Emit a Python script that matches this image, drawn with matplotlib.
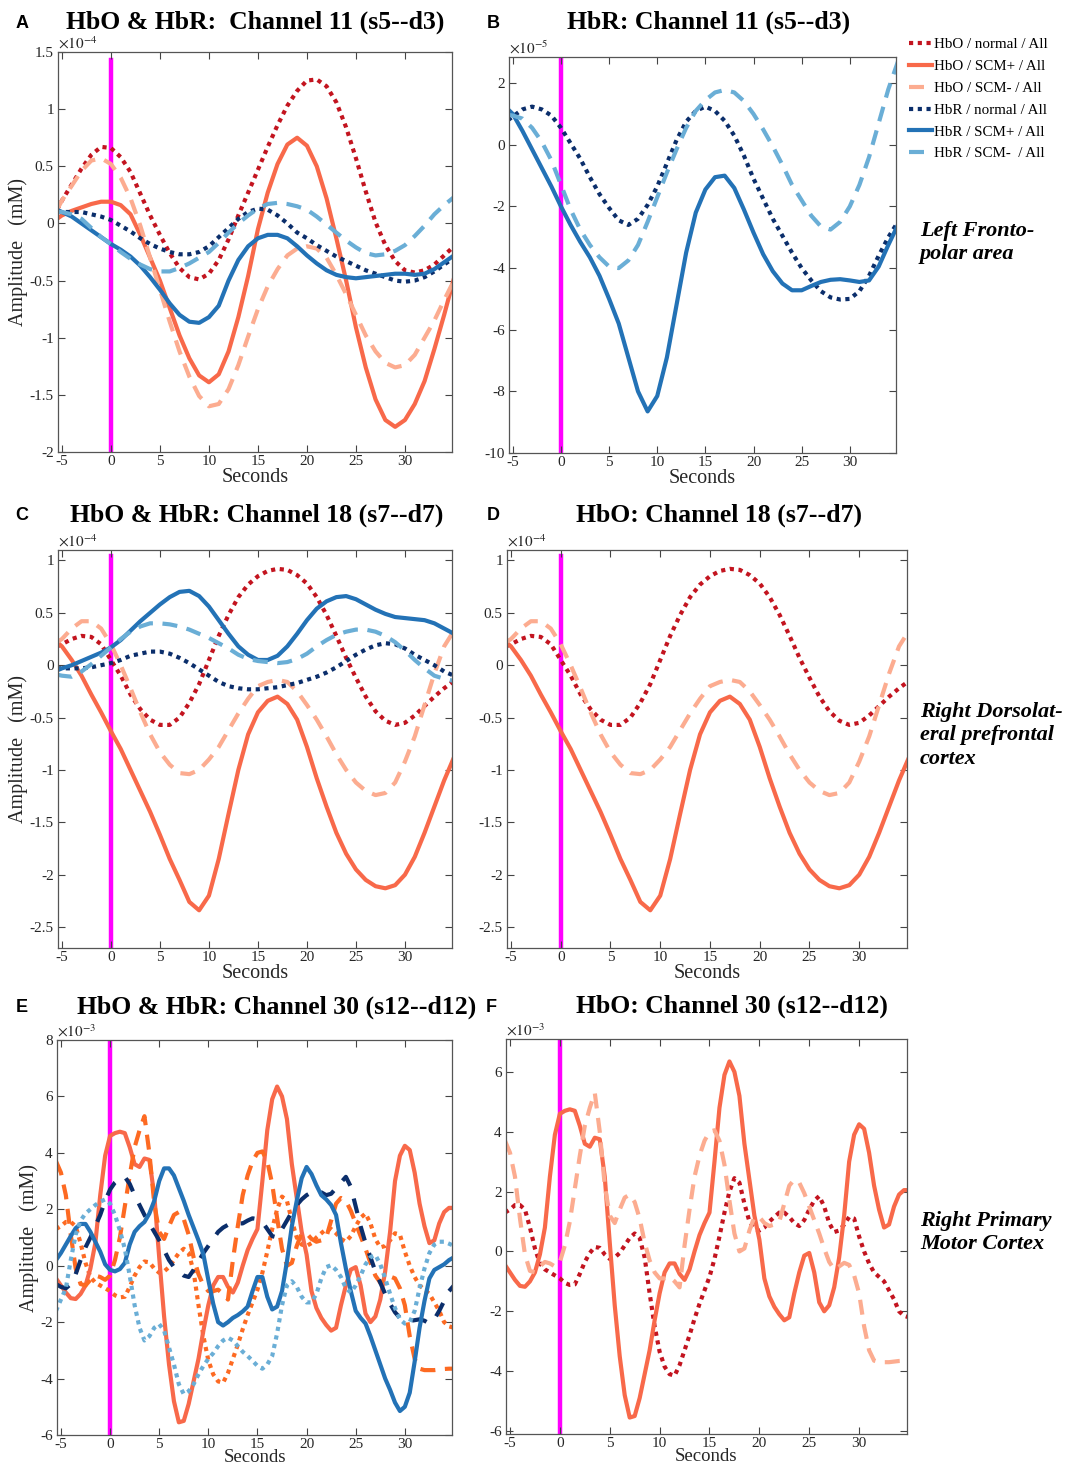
import numpy as np
import matplotlib
matplotlib.use("Agg")
import matplotlib.pyplot as plt
from matplotlib.ticker import FuncFormatter

plt.rcParams["font.family"] = ["Liberation Serif", "DejaVu Serif"]
plt.rcParams["mathtext.fontset"] = "stix"

# sample times (s) of the block averages
T_SLOW = [-5.5] + list(range(-5, 36))
T_FAST = list(np.arange(-5.5, 35.01, 0.5))

# Channel 11 (s5--d3), x1e-4 mM
A_HBO_NORM = [0.12, 0.2, 0.34, 0.48, 0.6, 0.67, 0.66, 0.58, 0.45, 0.26, 0.07, -0.1, -0.26, -0.39,
              -0.47, -0.49, -0.44, -0.32, -0.14, 0.07, 0.27, 0.47, 0.67, 0.86, 1.03, 1.16, 1.25,
              1.26, 1.2, 1.06, 0.84, 0.57, 0.28, 0.01, -0.19, -0.33, -0.41, -0.43, -0.41, -0.36,
              -0.28, -0.2]
A_HBO_P = [0.04, 0.07, 0.11, 0.14, 0.17, 0.19, 0.19, 0.16, 0.08, -0.1, -0.3, -0.5, -0.74, -0.98,
           -1.18, -1.33, -1.39, -1.32, -1.12, -0.82, -0.46, -0.05, 0.27, 0.52, 0.69, 0.75, 0.68,
           0.5, 0.22, -0.13, -0.5, -0.91, -1.26, -1.54, -1.72, -1.78, -1.72, -1.58, -1.38, -1.1,
           -0.8, -0.48]
A_HBO_M = [0.12, 0.2, 0.33, 0.46, 0.55, 0.57, 0.52, 0.4, 0.22, -0.02, -0.3, -0.58, -0.86, -1.12,
           -1.34, -1.51, -1.6, -1.58, -1.45, -1.24, -0.99, -0.75, -0.55, -0.4, -0.28, -0.22, -0.2,
           -0.22, -0.3, -0.45, -0.62, -0.8, -0.98, -1.12, -1.22, -1.26, -1.24, -1.15, -1.0,
           -0.85, -0.67, -0.5]
A_HBR_NORM = [0.1, 0.1, 0.1, 0.1, 0.08, 0.06, 0.03, -0.02, -0.07, -0.13, -0.18, -0.22, -0.25,
              -0.27, -0.27, -0.25, -0.2, -0.12, -0.04, 0.04, 0.1, 0.13, 0.12, 0.07, 0.0, -0.08,
              -0.13, -0.19, -0.24, -0.29, -0.33, -0.37, -0.41, -0.44, -0.47, -0.5, -0.51, -0.5,
              -0.47, -0.42, -0.36, -0.3]
A_HBR_P = [0.12, 0.1, 0.06, 0.0, -0.06, -0.12, -0.18, -0.23, -0.29, -0.37, -0.47, -0.58, -0.7,
           -0.8, -0.86, -0.87, -0.82, -0.72, -0.5, -0.32, -0.2, -0.13, -0.1, -0.1, -0.13, -0.2,
           -0.28, -0.35, -0.41, -0.45, -0.47, -0.48, -0.47, -0.46, -0.45, -0.44, -0.44, -0.45,
           -0.44, -0.4, -0.34, -0.28]
A_HBR_M = [0.1, 0.1, 0.08, 0.04, -0.04, -0.12, -0.18, -0.25, -0.31, -0.36, -0.4, -0.42, -0.42,
           -0.39, -0.35, -0.3, -0.25, -0.17, -0.08, 0.0, 0.07, 0.13, 0.17, 0.18, 0.17, 0.15, 0.12,
           0.06, -0.01, -0.08, -0.15, -0.21, -0.26, -0.28, -0.27, -0.24, -0.19, -0.11, -0.02,
           0.08, 0.16, 0.23]

# Channel 11 HbR only, x1e-5 mM
B_HBR_NORM = [0.8, 0.92, 1.15, 1.24, 1.15, 0.95, 0.55, 0.05, -0.45, -1.05, -1.6, -2.05, -2.45,
              -2.6, -2.4, -1.95, -1.35, -0.6, 0.15, 0.75, 1.1, 1.24, 1.1, 0.78, 0.3, -0.35, -1.1,
              -1.75, -2.4, -2.95, -3.5, -4.0, -4.4, -4.75, -4.95, -5.02, -5.0, -4.75, -4.25,
              -3.6, -3.0, -2.5]
B_HBR_P = [1.15, 1.0, 0.45, -0.15, -0.75, -1.35, -2.0, -2.6, -3.15, -3.65, -4.25, -5.0, -5.8,
           -6.9, -8.0, -8.65, -8.15, -6.9, -5.2, -3.5, -2.2, -1.45, -1.05, -1.0, -1.4, -2.1,
           -2.85, -3.55, -4.1, -4.5, -4.72, -4.72, -4.58, -4.45, -4.38, -4.36, -4.4, -4.45,
           -4.4, -3.95, -3.25, -2.6]
B_HBR_M = [0.97, 0.95, 0.85, 0.55, 0.1, -0.5, -1.3, -2.1, -2.75, -3.25, -3.65, -3.95, -4.0,
           -3.75, -3.25, -2.5, -1.7, -0.9, -0.15, 0.55, 1.1, 1.45, 1.7, 1.78, 1.7, 1.42, 1.0, 0.5,
           -0.05, -0.65, -1.3, -1.8, -2.3, -2.65, -2.75, -2.5, -2.0, -1.3, -0.4, 0.7, 1.8, 2.7]

# Channel 18 (s7--d7), x1e-4 mM
C_HBO_NORM = [0.18, 0.2, 0.25, 0.28, 0.27, 0.2, 0.05, -0.1, -0.28, -0.42, -0.52, -0.57, -0.57,
              -0.5, -0.36, -0.18, 0.05, 0.28, 0.48, 0.65, 0.77, 0.85, 0.9, 0.92, 0.91, 0.86, 0.78,
              0.65, 0.48, 0.28, 0.07, -0.12, -0.3, -0.44, -0.53, -0.57, -0.55, -0.48, -0.39,
              -0.3, -0.22, -0.15]
C_HBO_P = [0.22, 0.18, 0.05, -0.1, -0.28, -0.45, -0.63, -0.8, -1.0, -1.2, -1.4, -1.62, -1.85,
           -2.05, -2.26, -2.34, -2.2, -1.85, -1.42, -1.0, -0.66, -0.45, -0.34, -0.3, -0.37,
           -0.52, -0.78, -1.08, -1.35, -1.6, -1.8, -1.95, -2.05, -2.11, -2.13, -2.1, -2.0,
           -1.83, -1.6, -1.35, -1.1, -0.88]
C_HBO_M = [0.22, 0.25, 0.35, 0.42, 0.42, 0.35, 0.2, 0.0, -0.22, -0.45, -0.66, -0.83, -0.95,
           -1.03, -1.04, -1.0, -0.9, -0.78, -0.62, -0.46, -0.32, -0.2, -0.16, -0.14, -0.16,
           -0.25, -0.38, -0.52, -0.68, -0.85, -1.0, -1.12, -1.2, -1.24, -1.22, -1.12, -0.92,
           -0.68, -0.38, -0.08, 0.18, 0.33]
C_HBR_NORM = [-0.03, -0.03, -0.03, -0.03, -0.02, 0.0, 0.02, 0.05, 0.09, 0.11, 0.13, 0.13, 0.11,
              0.07, 0.02, -0.04, -0.1, -0.16, -0.2, -0.22, -0.23, -0.23, -0.22, -0.21, -0.19,
              -0.17, -0.14, -0.11, -0.07, -0.02, 0.04, 0.1, 0.15, 0.19, 0.21, 0.2, 0.16, 0.1,
              0.05, 0.0, -0.06, -0.1]
C_HBR_P = [-0.05, -0.03, 0.0, 0.04, 0.08, 0.12, 0.17, 0.24, 0.33, 0.42, 0.5, 0.58, 0.65, 0.7,
           0.71, 0.66, 0.56, 0.43, 0.3, 0.18, 0.1, 0.05, 0.05, 0.09, 0.18, 0.3, 0.43, 0.54, 0.61,
           0.65, 0.66, 0.63, 0.58, 0.53, 0.49, 0.46, 0.45, 0.44, 0.43, 0.4, 0.35, 0.3]
C_HBR_M = [-0.09, -0.1, -0.11, -0.06, 0.01, 0.09, 0.17, 0.25, 0.32, 0.37, 0.4, 0.4, 0.39, 0.37,
           0.34, 0.3, 0.26, 0.21, 0.16, 0.1, 0.06, 0.04, 0.03, 0.02, 0.03, 0.06, 0.11, 0.18,
           0.24, 0.29, 0.32, 0.34, 0.34, 0.32, 0.28, 0.22, 0.14, 0.05, -0.03, -0.1, -0.13, -0.15]

# Channel 30 (s12--d12), x1e-3 mM, every 0.5 s
E_HBO_NORM = [1.3, 1.4, 1.55, 1.55, 1.4, 0.8, 0.1, -0.4, -0.6, -0.7,
              -0.8, -0.9, -1.05, -1.12, -1.1, -0.75, -0.35, -0.05, 0.15, 0.12,
              -0.1, -0.25, -0.2, -0.05, 0.2, 0.45, 0.6, 0.45, -0.2, -1.4,
              -2.5, -3.35, -3.85, -4.1, -4.15, -3.8, -3.3, -2.8, -2.25, -1.75,
              -1.3, -0.85, -0.25, 0.5, 1.3, 2.0, 2.45, 2.3, 1.6, 1.0,
              0.75, 0.7, 0.8, 1.0, 1.15, 1.3, 1.3, 1.15, 0.95, 0.85,
              1.05, 1.4, 1.7, 1.85, 1.5, 0.95, 0.65, 0.7, 0.9, 1.15,
              1.1, 0.5, 0.0, -0.4, -0.7, -0.85, -1.0, -1.3, -1.6, -2.0,
              -2.15, -2.2]
E_HBO_P = [-0.45, -0.7, -0.95, -1.15, -1.18, -1.0, -0.7, -0.1, 0.8, 2.5,
           3.9, 4.6, 4.7, 4.75, 4.7, 4.2, 3.6, 3.5, 3.8, 3.75,
           2.5, 0.3, -1.8, -3.5, -4.8, -5.55, -5.5, -4.9, -4.1, -3.3,
           -2.3, -1.4, -0.7, -0.4, -0.4, -0.75, -0.95, -0.6, 0.0, 0.55,
           0.95, 1.3, 3.0, 4.8, 5.9, 6.35, 6.0, 5.2, 3.6, 2.4,
           1.2, 0.4, -0.9, -1.5, -1.85, -2.1, -2.3, -2.2, -1.4, -0.7,
           -0.14, -0.05, -0.7, -1.7, -2.0, -1.8, -1.2, -0.2, 1.2, 3.0,
           3.9, 4.25, 4.1, 3.3, 2.2, 1.4, 0.8, 0.9, 1.5, 1.9,
           2.05, 2.05]
E_HBO_M = [3.7, 3.3, 2.5, 1.1, -0.1, -0.65, -0.7, -0.5, -0.35, -0.4,
           -0.5, -0.35, 0.2, 1.0, 2.1, 3.2, 4.2, 4.8, 5.3, 4.0,
           2.2, 1.2, 0.95, 1.4, 1.8, 1.9, 1.65, 1.1, 0.3, -0.3,
           -0.7, -0.9, -0.9, -0.85, -1.0, -1.2, 0.2, 1.4, 2.5, 3.2,
           3.7, 4.0, 4.05, 3.7, 2.9, 1.7, 0.6, 0.0, 0.1, 0.7,
           1.15, 1.15, 0.95, 0.85, 0.9, 1.0, 1.6, 2.2, 2.4, 2.3,
           1.95, 1.5, 1.05, 0.6, 0.1, -0.35, -0.6, -0.5, -0.38, -0.45,
           -0.8, -1.4, -2.5, -3.3, -3.65, -3.7, -3.7, -3.7, -3.68, -3.66,
           -3.65, -3.65]
E_HBR_NORM = [-0.65, -0.75, -0.8, -0.65, -0.3, 0.2, 0.65, 1.0, 1.4, 1.8,
              2.3, 2.7, 2.95, 3.1, 3.15, 2.9, 2.5, 2.15, 1.8, 1.5,
              1.2, 0.9, 0.55, 0.2, -0.05, -0.2, -0.35, -0.4, -0.15, 0.15,
              0.45, 0.7, 0.95, 1.2, 1.35, 1.45, 1.5, 1.5, 1.5, 1.6,
              1.68, 1.65, 1.55, 1.3, 1.05, 1.0, 1.3, 1.6, 1.9, 2.15,
              2.35, 2.5, 2.6, 2.62, 2.6, 2.5, 2.55, 2.75, 2.95, 3.15,
              2.8, 2.1, 1.4, 0.8, 0.3, -0.2, -0.6, -1.0, -1.35, -1.65,
              -1.85, -1.92, -1.96, -1.93, -1.9, -1.95, -2.05, -1.9, -1.6, -1.25,
              -0.9, -0.7]
E_HBR_P = [0.2, 0.45, 0.75, 1.05, 1.33, 1.48, 1.48, 1.2, 0.85, 0.5,
           0.05, -0.15, -0.2, -0.12, 0.1, 0.75, 1.2, 1.4, 1.55, 1.85,
           2.3, 3.0, 3.45, 3.45, 3.2, 2.75, 2.3, 1.8, 1.35, 0.9,
           0.4, -0.5, -1.35, -2.0, -2.12, -2.0, -1.85, -1.75, -1.62, -1.45,
           -0.9, -0.4, -0.4, -1.1, -1.55, -1.45, -0.9, 0.15, 1.4, 2.3,
           3.1, 3.5, 3.25, 2.85, 2.5, 2.35, 2.15, 1.8, 0.8, -0.1,
           -0.9, -1.6, -1.85, -2.05, -2.5, -3.0, -3.5, -4.0, -4.4, -4.85,
           -5.15, -5.0, -4.5, -3.4, -2.2, -1.25, -0.45, -0.15, -0.05, 0.05,
           0.2, 0.3]
E_HBR_M = [-1.6, -1.2, -0.8, 0.2, 1.1, 1.6, 1.85, 2.0, 2.15, 2.27,
           2.35, 2.2, 1.8, 1.25, 0.6, -0.35, -1.4, -2.2, -2.65, -2.5,
           -2.2, -2.07, -2.3, -2.9, -3.5, -4.2, -4.55, -4.45, -4.2, -3.85,
           -3.55, -3.3, -3.1, -2.85, -2.65, -2.55, -2.65, -2.85, -3.05, -3.2,
           -3.37, -3.55, -3.65, -3.5, -3.2, -2.4, -1.4, -0.7, -0.55, -0.75,
           -1.1, -1.3, -1.3, -1.0, -0.45, -0.05, 0.02, -0.15, -0.4, -0.8,
           -0.95, -0.7, -0.35, 0.05, 0.3, 0.38, 0.05, -0.45, -1.0, -1.5,
           -1.9, -2.05, -2.0, -1.6, -0.8, -0.1, 0.45, 0.75, 0.85, 0.85,
           0.78, 0.7]

LEGEND_LABELS = ["HbO / normal / All", "HbO / SCM+ / All", "HbO / SCM- / All",
                 "HbR / normal / All", "HbR / SCM+ / All", "HbR / SCM-  / All"]

HBO_NORM_C = "#c3141f"
HBO_P_C = "#f8694a"
HBO_M_C = "#fcac90"
HBR_NORM_C = "#0b2e6b"
HBR_P_C = "#2372b6"
HBR_M_C = "#6aaed6"
ORANGE_C = "#fd6a22"
ONSET_C = "#ff00ff"

SOLID = dict(ls="-", lw=3.0, solid_joinstyle="round")
DOT = dict(ls=(0, (1, 1.1)), lw=3.0, dash_capstyle="butt")
DASH = dict(ls=(0, (3.6, 2.3)), lw=3.0, dash_capstyle="butt")
LONGDASH = dict(ls=(0, (3.6, 3.2)), lw=3.0, dash_capstyle="butt")

W, H = 1067, 1469
fig = plt.figure(figsize=(W / 100, H / 100), dpi=100)


def px_axes(x0, y0, x1, y1):
    """Axes from a pixel box (top-left origin)."""
    return fig.add_axes([x0 / W, 1 - y1 / H, (x1 - x0) / W, (y1 - y0) / H])


def style_axes(ax, ylim, yticks, exponent, ylabel=False, onset_top=1.0,
               xlabelpad=0, xlabelsize=14.5):
    """Matlab-like frame: inward ticks on all sides, hyphen minus, x10^n marker."""
    ax.axvline(0, ymin=0, ymax=onset_top, color=ONSET_C, lw=3.2, zorder=1)
    ax.set_xlim(-5.4, 34.8)
    ax.set_ylim(*ylim)
    ax.set_xticks(range(-5, 35, 5))
    ax.set_yticks(yticks)
    fmt = FuncFormatter(lambda v, pos: f"{v:g}")
    ax.xaxis.set_major_formatter(fmt)
    ax.yaxis.set_major_formatter(fmt)
    ax.tick_params(direction="in", top=True, right=True, length=5, width=0.8,
                   labelsize=11, pad=3, color="#444444", labelcolor="#262626")
    ax.tick_params(axis="x", pad=2)
    for s in ax.spines.values():
        s.set_linewidth(0.9)
        s.set_color("#555555")
    ax.set_xlabel("Seconds", fontsize=xlabelsize, labelpad=xlabelpad, color="#262626")
    if ylabel:
        ax.set_ylabel("Amplitude   (mM)", fontsize=14.5, labelpad=1, color="#262626")
    ax.text(0.0, 1.0, r"$\times10^{%d}$" % exponent, transform=ax.transAxes,
            ha="left", va="bottom", fontsize=11, color="#262626")


def hbo_lines(ax, t, norm, plus, minus, colors=(HBO_NORM_C, HBO_P_C, HBO_M_C)):
    h1, = ax.plot(t, norm, color=colors[0], **DOT)
    h2, = ax.plot(t, plus, color=colors[1], **SOLID)
    h3, = ax.plot(t, minus, color=colors[2], **DASH)
    return [h1, h2, h3]


def hbr_lines(ax, t, norm, plus, minus):
    h1, = ax.plot(t, norm, color=HBR_NORM_C, **DOT)
    h2, = ax.plot(t, plus, color=HBR_P_C, **SOLID)
    h3, = ax.plot(t, minus, color=HBR_M_C, **DASH)
    return [h1, h2, h3]


# A
ax = px_axes(58, 52, 452, 452)
handles = hbo_lines(ax, T_SLOW, A_HBO_NORM, A_HBO_P, A_HBO_M)
handles += hbr_lines(ax, T_SLOW, A_HBR_NORM, A_HBR_P, A_HBR_M)
style_axes(ax, (-2, 1.5), np.arange(-2, 1.51, 0.5), -4, ylabel=True, onset_top=0.98)

# B
ax = px_axes(509, 57, 896, 453)
hbr_lines(ax, T_SLOW, B_HBR_NORM, B_HBR_P, B_HBR_M)
style_axes(ax, (-10, 2.85), range(-10, 3, 2), -5)

# C
ax = px_axes(58, 550, 452, 948)
hbo_lines(ax, T_SLOW, C_HBO_NORM, C_HBO_P, C_HBO_M)
hbr_lines(ax, T_SLOW, C_HBR_NORM, C_HBR_P, C_HBR_M)
style_axes(ax, (-2.7, 1.1), np.arange(-2.5, 1.01, 0.5), -4, ylabel=True, onset_top=0.985)

# D
ax = px_axes(507, 550, 907, 948)
hbo_lines(ax, T_SLOW, C_HBO_NORM, C_HBO_P, C_HBO_M)
style_axes(ax, (-2.7, 1.1), np.arange(-2.5, 1.01, 0.5), -4, onset_top=0.985)

# E
ax = px_axes(57, 1040, 452, 1435)
ax.plot(T_FAST, E_HBO_NORM, color=ORANGE_C, **DOT)
ax.plot(T_FAST, E_HBO_P, color=HBO_P_C, **SOLID)
ax.plot(T_FAST, E_HBO_M, color=ORANGE_C, **DASH)
ax.plot(T_FAST, E_HBR_NORM, color=HBR_NORM_C, **LONGDASH)
ax.plot(T_FAST, E_HBR_P, color=HBR_P_C, **SOLID)
ax.plot(T_FAST, E_HBR_M, color=HBR_M_C, **DOT)
style_axes(ax, (-6, 8), range(-6, 9, 2), -3, ylabel=True, xlabelpad=-1, xlabelsize=13.5)

# F
ax = px_axes(506, 1039, 907, 1434)
hbo_lines(ax, T_FAST, E_HBO_NORM, E_HBO_P, E_HBO_M)
style_axes(ax, (-6.1, 7.1), range(-6, 7, 2), -3, xlabelpad=-1, xlabelsize=13.5)

titles = [("A", 22, 255, 22, "HbO & HbR:  Channel 11 (s5--d3)"),
          ("B", 493, 709, 22, "HbR: Channel 11 (s5--d3)"),
          ("C", 22, 257, 515, "HbO & HbR: Channel 18 (s7--d7)"),
          ("D", 493, 719, 515, "HbO: Channel 18 (s7--d7)"),
          ("E", 22, 277, 1007, "HbO & HbR: Channel 30 (s12--d12)"),
          ("F", 491, 732, 1006, "HbO: Channel 30 (s12--d12)")]
for letter, lx, tx, ty, text in titles:
    fig.text(lx / W, 1 - (ty + 1) / H, letter, family="Liberation Sans", weight="bold",
             fontsize=13, ha="center", va="center")
    fig.text(tx / W, 1 - ty / H, text, weight="bold", fontsize=18.5, ha="center", va="center")

areas = [(221, "Left Fronto-\npolar area"),
         (702, "Right Dorsolat-\neral prefrontal\ncortex"),
         (1211, "Right Primary\nMotor Cortex")]
for y, text in areas:
    fig.text(920 / W, 1 - y / H, text, style="italic", weight="bold", fontsize=16,
             ha="left", va="top", linespacing=1.22)

fig.legend(handles, LEGEND_LABELS, loc="upper left", bbox_to_anchor=(909 / W, 1 - 38 / H),
           frameon=False, fontsize=10.8, handlelength=1.5, handletextpad=0.2,
           labelspacing=0.55, borderaxespad=0, borderpad=0)

fig.savefig("out.png", dpi=100)
